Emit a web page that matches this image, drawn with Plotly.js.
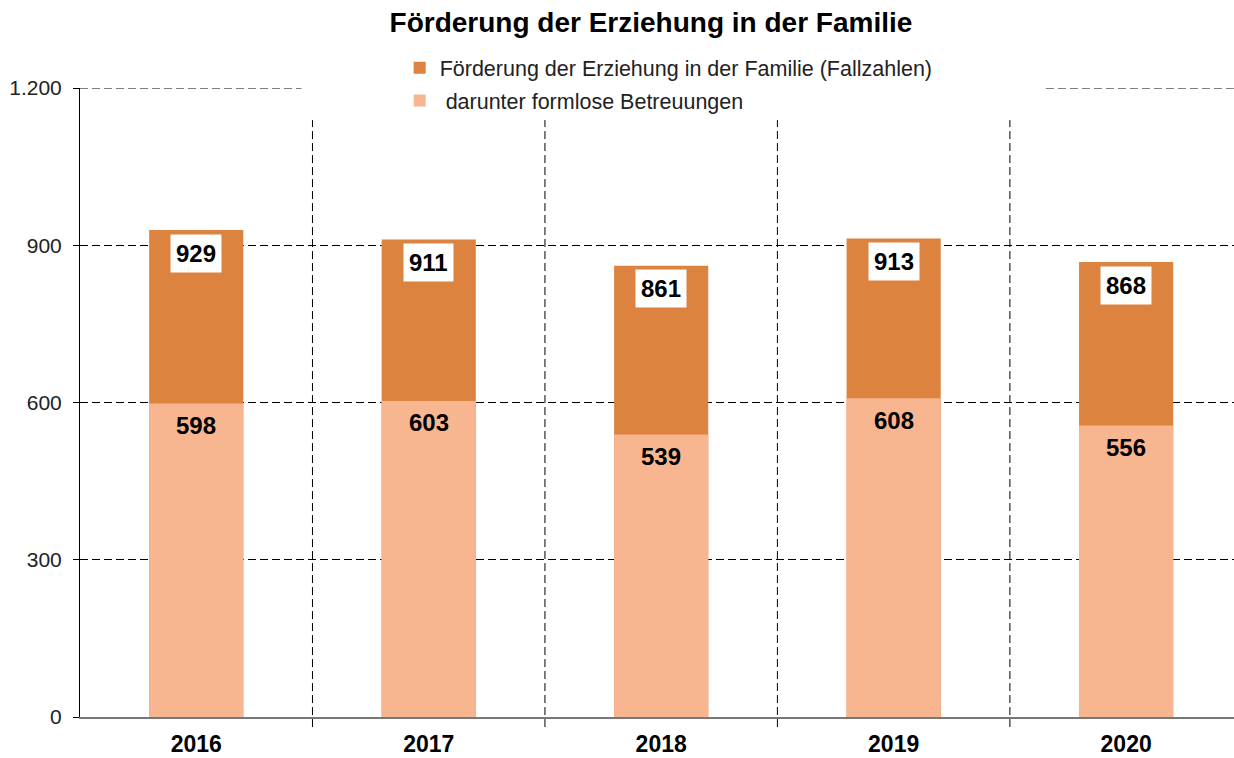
<!DOCTYPE html>
<html><head><meta charset="utf-8">
<script src="https://cdn.plot.ly/plotly-3.0.1.min.js"></script>
<style>html,body{margin:0;padding:0;background:#fff}#chart{width:1234px;height:758px}</style>
</head><body><div id="chart"></div>
<script>
const years = ["2016", "2017", "2018", "2019", "2020"];
const totalCases = [929, 911, 861, 913, 868];
const informalCare = [598, 603, 539, 608, 556];
const totalName = "Förderung der Erziehung in der Familie (Fallzahlen)";
const informalName = "\u00a0darunter formlose Betreuungen";
const titleText = "Förderung der Erziehung in der Familie";

const font = "Liberation Sans, Arial, Helvetica, sans-serif";
const traces = [
  {type: "bar", x: years, y: totalCases, name: totalName, width: 0.405,
   marker: {color: "#DB833F"}, hoverinfo: "skip", legend: "legend"},
  {type: "bar", x: years, y: informalCare, name: informalName, width: 0.405,
   marker: {color: "#F8B690"}, hoverinfo: "skip", legend: "legend2"}
];
const annotations = [];
years.forEach((yr, i) => {
  annotations.push({x: i, y: totalCases[i], xref: "x", yref: "y", text: String(totalCases[i]),
    showarrow: false, yshift: -23, yanchor: "middle", bgcolor: "#ffffff", borderpad: 5,
    font: {family: font, size: 24, color: "#000", weight: "bold"}});
  annotations.push({x: i, y: informalCare[i], xref: "x", yref: "y", text: String(informalCare[i]),
    showarrow: false, yshift: -22, yanchor: "middle",
    font: {family: font, size: 24, color: "#000", weight: "bold"}});
});
const shapes = [];
for (let i = 0; i < years.length - 1; i++) {
  shapes.push({type: "line", xref: "x", yref: "paper", x0: i + 0.5, x1: i + 0.5, y0: -0.016, y1: 0.949,
    line: {color: "#000", width: 1, dash: "8px,4px"}, layer: "below"});
}
shapes.push({type: "line", xref: "paper", yref: "y", x0: 0, x1: 0.192, y0: 1200, y1: 1200,
  line: {color: "#000", width: 1, dash: "8px,4px"}, layer: "below"});
shapes.push({type: "line", xref: "paper", yref: "y", x0: 0.837, x1: 1, y0: 1200, y1: 1200,
  line: {color: "#000", width: 1, dash: "8px,4px"}, layer: "below"});

const legendBase = {xanchor: "left", yanchor: "middle", bgcolor: "rgba(0,0,0,0)",
  font: {family: font, size: 21.5, color: "#222"}, itemwidth: 30};
const layout = {
  width: 1234, height: 758,
  margin: {l: 80, r: 0, t: 88, b: 41},
  paper_bgcolor: "#fff", plot_bgcolor: "#fff",
  separators: ",.",
  barmode: "overlay",
  font: {family: font, size: 20, color: "#222"},
  title: {text: titleText, x: 0.5275, xanchor: "center", y: 0.971, yanchor: "middle",
    font: {family: font, size: 28, color: "#000", weight: "bold"}},
  showlegend: true,
  legend: Object.assign({x: 0.277, y: 1.032}, legendBase),
  legend2: Object.assign({x: 0.277, y: 0.980}, legendBase),
  xaxis: {type: "category", range: [-0.5, 4.464], showgrid: false, zeroline: false,
    showline: true, linecolor: "#777", linewidth: 2, ticks: "", ticklabelstandoff: 5,
    tickfont: {family: font, size: 23, color: "#000", weight: "bold"}, fixedrange: true},
  yaxis: {range: [0, 1200], tickvals: [0, 300, 600, 900, 1200], tickformat: ",d",
    showgrid: true, gridcolor: "#000", gridwidth: 1, griddash: "8px,4px",
    zeroline: false, showline: true, linecolor: "#000", linewidth: 1,
    ticks: "outside", ticklen: 6, tickcolor: "#000", ticklabelstandoff: 7,
    tickfont: {family: font, size: 21, color: "#222"}, fixedrange: true},
  annotations: annotations,
  shapes: shapes
};
Plotly.newPlot("chart", traces, layout, {displayModeBar: false, staticPlot: true});
</script></body></html>
